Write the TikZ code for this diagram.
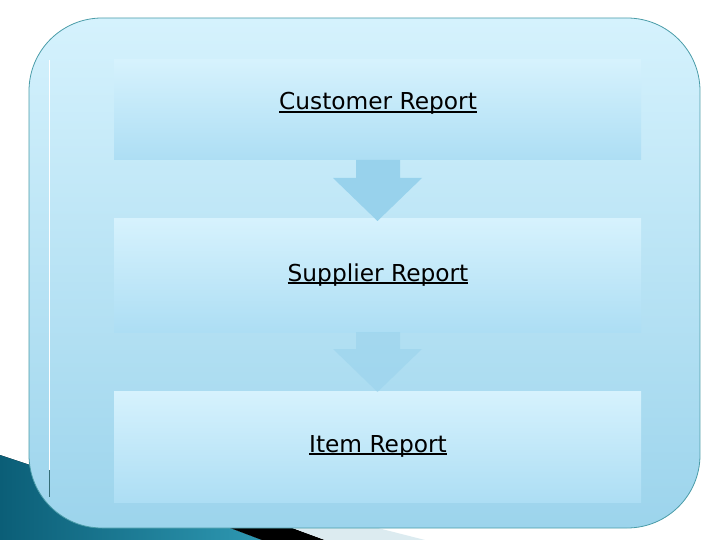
\documentclass[tikz,border=0pt]{standalone}
\usepackage{fontspec}
\setmainfont{DejaVu Sans}
\definecolor{outertop}{HTML}{D5F2FD}
\definecolor{outerbot}{HTML}{9CD4EC}
\definecolor{boxtop}{HTML}{D6F2FD}
\definecolor{boxbot}{HTML}{ADDEF4}
\definecolor{arrowc}{HTML}{98D2EC}
\definecolor{edgec}{HTML}{4A9CA8}
\definecolor{tealdark}{HTML}{0B5E77}
\definecolor{teallight}{HTML}{2E98B2}
\definecolor{greyband}{HTML}{DCEBF0}
\newcommand\myuline[1]{\setbox0\hbox{#1}\rlap{\rule[-3pt]{\wd0}{1.6pt}}\box0}
\tikzset{
  stagebox/.style={minimum width=527, minimum height=#1, inner sep=0, outer sep=0,
    top color=boxtop, bottom color=boxbot, draw=none},
  stagetext/.style={font=\fontsize{23.3}{27}\selectfont, text=black, inner sep=0},
  downarrow/.style={fill=arrowc, draw=none}
}
\begin{document}
\begin{tikzpicture}[x=1pt,y=-1pt]
\useasboundingbox (0,0) rectangle (720,540);
% bottom-left decoration
\fill[left color=tealdark, right color=teallight]
  (0,455) -- (33,466) .. controls (80,492) and (150,516) .. (230,528) -- (262,540) -- (0,540) -- cycle;
\fill[black] (225,526) -- (287,526) -- (325,540) -- (262,540) -- cycle;
\fill[greyband] (287,526) -- (370,526) -- (425,540) -- (325,540) -- cycle;
% outer panel
\node[draw=edgec, line width=0.8pt, rounded corners=73, top color=outertop, bottom color=outerbot,
  minimum width=671, minimum height=510, inner sep=0, outer sep=0] (panel) at (364.5,273) {};
% inner white line
\draw[white, line width=1pt] (49,60) -- (49,470);
\draw[edgec!70!black, line width=1pt] (49,470) -- (49,497);
% stage boxes
\node[stagebox=100] (b1) at (377.5,110) {};
\node[stagebox=113] (b2) at (377.5,275.5) {};
\node[stagebox=111] (b3) at (377.5,446.5) {};
% arrows
\fill[downarrow] (356,160) -- (400,160) -- (400,178) -- (422,178) -- (377.5,221) -- (333,178) -- (356,178) -- cycle;
\fill[downarrow, opacity=0.55] (356,332) -- (400,332) -- (400,349) -- (422,349) -- (377.5,392) -- (333,349) -- (356,349) -- cycle;
% labels
\node[stagetext, anchor=base] (t1) at (378,110) {\myuline{Customer Report}};
\node[stagetext, anchor=base] (t2) at (378,281) {\myuline{Supplier Report}};
\node[stagetext, anchor=base] (t3) at (378,452) {\myuline{Item Report}};
\end{tikzpicture}
\end{document}
